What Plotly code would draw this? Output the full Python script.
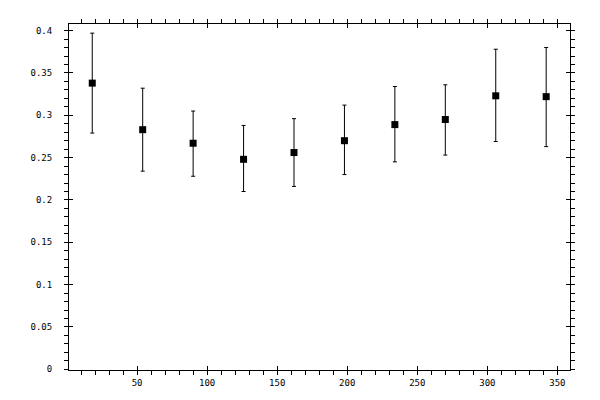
import plotly.graph_objects as go

# values
angle = [18, 54, 90, 126, 162, 198, 234, 270, 306, 342]
value = [0.338, 0.283, 0.267, 0.248, 0.256, 0.270, 0.289, 0.295, 0.323, 0.322]
upper = [0.397, 0.332, 0.305, 0.288, 0.296, 0.312, 0.334, 0.336, 0.378, 0.380]
lower = [0.279, 0.234, 0.228, 0.210, 0.216, 0.230, 0.245, 0.253, 0.269, 0.263]

err_plus = [u - v for u, v in zip(upper, value)]
err_minus = [v - l for v, l in zip(value, lower)]

xr = [1.4, 359]
yr = [-0.0008, 0.4078]
tickfont = dict(family="DejaVu Sans Mono", size=9, color="black")

fig = go.Figure()
fig.add_trace(go.Scatter(
    x=angle, y=value, mode="markers",
    marker=dict(symbol="square", size=7, color="black"),
    error_y=dict(type="data", symmetric=False, array=err_plus, arrayminus=err_minus,
                 color="black", thickness=1, width=2),
))
# empty trace so the overlay axes (inside major ticks) get drawn
fig.add_trace(go.Scatter(x=[], y=[], xaxis="x2", yaxis="y2", showlegend=False))

# page body has an 8px margin, so the margins are shifted to match
fig.update_layout(
    width=600, height=400,
    margin=dict(l=61, r=38, t=11, b=38),
    paper_bgcolor="white", plot_bgcolor="white",
    showlegend=False,
    xaxis=dict(range=xr, showgrid=False, zeroline=False, showline=True, linecolor="black",
               linewidth=1, mirror="allticks", ticks="outside", ticklen=4, tickwidth=1,
               tickcolor="black", dtick=50, tick0=0, tickfont=tickfont, ticklabelstandoff=0,
               minor=dict(dtick=10, tick0=0, ticks="outside", ticklen=4, tickcolor="black",
                          showgrid=False)),
    yaxis=dict(range=yr, showgrid=False, zeroline=False, showline=True, linecolor="black",
               linewidth=1, mirror="allticks", ticks="outside", ticklen=4, tickwidth=1,
               tickcolor="black", dtick=0.05, tick0=0, tickfont=tickfont, ticklabelstandoff=10,
               minor=dict(dtick=0.01, tick0=0, ticks="outside", ticklen=4, tickcolor="black",
                          showgrid=False)),
    xaxis2=dict(range=xr, overlaying="x", anchor="y", showgrid=False, zeroline=False,
                mirror="allticks", ticks="inside", ticklen=4, tickcolor="black",
                dtick=50, tick0=0, showticklabels=False, showline=False),
    yaxis2=dict(range=yr, overlaying="y", anchor="x", showgrid=False, zeroline=False,
                mirror="allticks", ticks="inside", ticklen=4, tickcolor="black",
                dtick=0.05, tick0=0, showticklabels=False, showline=False),
)

fig.write_html("out.html")
